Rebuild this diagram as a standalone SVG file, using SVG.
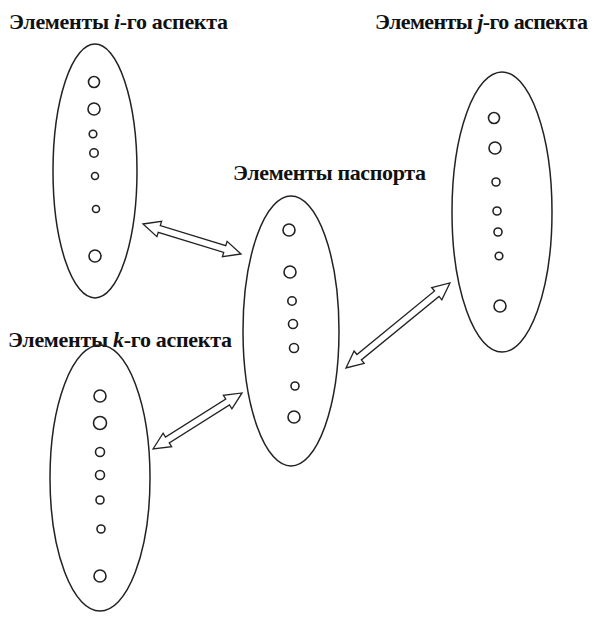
<svg xmlns="http://www.w3.org/2000/svg" width="594" height="620" viewBox="0 0 594 620">
<defs>
<style>
.ell{fill:none;stroke:#222;stroke-width:1.5}
.dot{fill:none;stroke:#222;stroke-width:1.6}
.lbl{font-family:"Liberation Serif","Times New Roman",serif;font-weight:bold;font-size:22px;fill:#111}
.it{font-style:italic}
.arr{fill:#fff;stroke:#222;stroke-width:1.3;stroke-linejoin:miter}
</style>
</defs>
<rect width="594" height="620" fill="#fff"/>
<g id="node-i">
<text class="lbl" x="9" y="29" textLength="219" lengthAdjust="spacing">Элементы <tspan class="it">i</tspan>-го аспекта</text>
<ellipse class="ell" cx="95" cy="171" rx="42" ry="127"/>
<circle class="dot" cx="94" cy="82" r="5.5"/>
<circle class="dot" cx="94" cy="109" r="6"/>
<circle class="dot" cx="93" cy="134" r="3.8"/>
<circle class="dot" cx="94" cy="153" r="4.2"/>
<circle class="dot" cx="95" cy="176" r="3.5"/>
<circle class="dot" cx="96" cy="209" r="3.5"/>
<circle class="dot" cx="95" cy="256" r="6"/>
</g>
<g id="node-j">
<text class="lbl" x="375" y="29" textLength="213" lengthAdjust="spacing">Элементы <tspan class="it">j</tspan>-го аспекта</text>
<ellipse class="ell" cx="502" cy="212" rx="50" ry="140"/>
<circle class="dot" cx="494" cy="118" r="5.5"/>
<circle class="dot" cx="495" cy="148" r="6"/>
<circle class="dot" cx="496" cy="182" r="4"/>
<circle class="dot" cx="497" cy="211" r="4"/>
<circle class="dot" cx="498" cy="232" r="4"/>
<circle class="dot" cx="499" cy="256" r="3.8"/>
<circle class="dot" cx="500" cy="306" r="6"/>
</g>
<g id="node-passport">
<text class="lbl" x="233" y="179.5" textLength="193" lengthAdjust="spacing">Элементы паспорта</text>
<ellipse class="ell" cx="291" cy="331" rx="48" ry="135"/>
<circle class="dot" cx="289" cy="230" r="6"/>
<circle class="dot" cx="290" cy="272" r="6"/>
<circle class="dot" cx="292" cy="301" r="4.2"/>
<circle class="dot" cx="293" cy="324" r="4.5"/>
<circle class="dot" cx="294" cy="348" r="4.5"/>
<circle class="dot" cx="295" cy="386" r="4"/>
<circle class="dot" cx="294" cy="417" r="6"/>
</g>
<g id="node-k">
<text class="lbl" x="8" y="347" textLength="224" lengthAdjust="spacing">Элементы <tspan class="it">k</tspan>-го аспекта</text>
<ellipse class="ell" cx="100" cy="478" rx="50" ry="133"/>
<circle class="dot" cx="100" cy="396" r="6"/>
<circle class="dot" cx="100" cy="423" r="6.5"/>
<circle class="dot" cx="100" cy="452" r="4.5"/>
<circle class="dot" cx="100" cy="475" r="4.5"/>
<circle class="dot" cx="100" cy="500" r="4"/>
<circle class="dot" cx="101" cy="529" r="4"/>
<circle class="dot" cx="100" cy="576" r="6"/>
</g>
<g id="connectors">
<polygon class="arr" transform="translate(143,224) rotate(17)" points="0,0 17,-8 17,-3.5 85.5,-3.5 85.5,-8 102.5,0 85.5,8 85.5,3.5 17,3.5 17,8"/>
<polygon class="arr" transform="translate(346,368) rotate(-39.3)" points="0,0 17,-8 17,-3.5 117.3,-3.5 117.3,-8 134.3,0 117.3,8 117.3,3.5 17,3.5 17,8"/>
<polygon class="arr" transform="translate(153,449) rotate(-32.2)" points="0,0 17,-8 17,-3.5 88.2,-3.5 88.2,-8 105.2,0 88.2,8 88.2,3.5 17,3.5 17,8"/>
</g>
</svg>
